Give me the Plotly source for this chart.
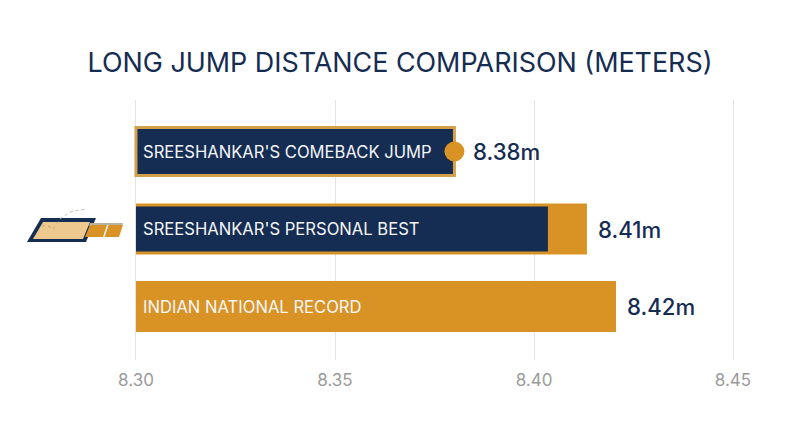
import plotly.graph_objects as go

jumps = ["SREESHANKAR'S COMEBACK JUMP", "SREESHANKAR'S PERSONAL BEST", "INDIAN NATIONAL RECORD"]
labels = ["8.38m", "8.41m", "8.42m"]
label_gaps = [19, 11, 11]
gold_bars = [None, 8.4133, 8.4206]
navy_bars = [8.38, 8.4035, None]
marker_x = [8.38]
marker_y = [jumps[0]]
ticks = [8.30, 8.35, 8.40, 8.45]
tick_text = ["8.30", "8.35", "8.40", "8.45"]

NAVY = "#152C53"
GOLD = "#D99325"
EDGE = "#D2A04A"
FONT = "Inter"

BASE = 8.30
W, H = 800, 447
# the page body adds 8px on the left and top, so everything is pulled back by that
PAGE = 8
L, R, T, B = 126, 73, 92, 95


def px_x(x):
    return (x - PAGE - L) / (W - L - R)


def px_y(y):
    return (H - B - (y - PAGE)) / (H - T - B)


def poly(points, fill, line=None, width=0, dash=None, closed=True):
    # icon is decoration outside the axes, so it is placed in page pixels
    path = " ".join(("M" if i == 0 else "L") + f"{px_x(x):.5f},{px_y(y):.5f}" for i, (x, y) in enumerate(points))
    return dict(type="path", xref="paper", yref="paper", layer="above",
                path=path + (" Z" if closed else ""), fillcolor=fill,
                line=dict(color=line or fill, width=width, dash=dash or "solid"))


fig = go.Figure()

fig.add_trace(go.Bar(y=jumps, x=[b - BASE if b else None for b in gold_bars], base=BASE, orientation="h",
                     width=0.66, marker=dict(color=GOLD, line_width=0), cliponaxis=False))
fig.add_trace(go.Bar(y=jumps, x=[b - BASE if b else None for b in navy_bars], base=BASE, orientation="h",
                     width=[0.62, 0.58, 0], marker=dict(color=NAVY, line=dict(color=[EDGE, EDGE, EDGE], width=[3, 0, 0])),
                     cliponaxis=False))
fig.add_trace(go.Scatter(x=marker_x, y=marker_y, mode="markers", cliponaxis=False,
                         marker=dict(color=GOLD, size=20, line_width=0)))

for name in jumps:
    fig.add_annotation(x=BASE, y=name, text=name, showarrow=False, xanchor="left", xshift=5,
                       font=dict(family=FONT, size=16.6, color="#F4F6F8"))

ends = [navy_bars[0], gold_bars[1], gold_bars[2]]
for name, end, label, gap in zip(jumps, ends, labels, label_gaps):
    fig.add_annotation(x=end, y=name, text=label, showarrow=False, xanchor="left", xshift=gap - 2,
                       font=dict(family=FONT, size=22.2, color=NAVY, weight=500))

shapes = [
    poly([(27, 242), (41, 218), (96, 218), (86, 242)], NAVY),
    poly([(33, 239), (43, 222), (90, 222), (83, 239)], "#EEC98F"),
    poly([(90, 223), (123, 223), (122, 226), (89, 226)], "#B9B2A4"),
    poly([(85, 237), (90, 225), (123, 225), (119, 237)], GOLD),
    poly([(103, 237), (107, 225), (108.5, 225), (104.5, 237)], "#FFFFFF"),
    poly([(53, 229), (60, 219), (70, 212), (80, 210), (87, 209)], "rgba(0,0,0,0)", "#B8AD98", 0.8, "dot", False),
    poly([(42, 226), (48, 226), (53, 229)], "rgba(0,0,0,0)", "#B89A62", 0.8, "dot", False),
]

fig.update_layout(
    width=W, height=H, autosize=False,
    margin=dict(l=L, r=R, t=T, b=B),
    paper_bgcolor="white", plot_bgcolor="white",
    barmode="overlay", showlegend=False, shapes=shapes,
    title=dict(text="LONG JUMP DISTANCE COMPARISON (METERS)", x=0.49, xanchor="center", y=0.878, yanchor="middle",
               font=dict(family=FONT, size=26.9, color=NAVY)),
)
# range runs a touch past the end ticks, plotly drops gridlines sitting right on the edge
fig.update_xaxes(range=[8.2995, 8.4505], tickvals=ticks, ticktext=tick_text, showline=False, zeroline=False,
                 showgrid=True, gridcolor="#E4E4E4", gridwidth=1, ticks="outside", ticklen=5, tickcolor="white",
                 tickfont=dict(family=FONT, size=17, color="#9A9A9A"))
fig.update_yaxes(type="category", categoryorder="array", categoryarray=jumps, range=[2.69, -0.665],
                 showticklabels=False, showgrid=False, showline=False, zeroline=False)

fig.write_html("out.html")
